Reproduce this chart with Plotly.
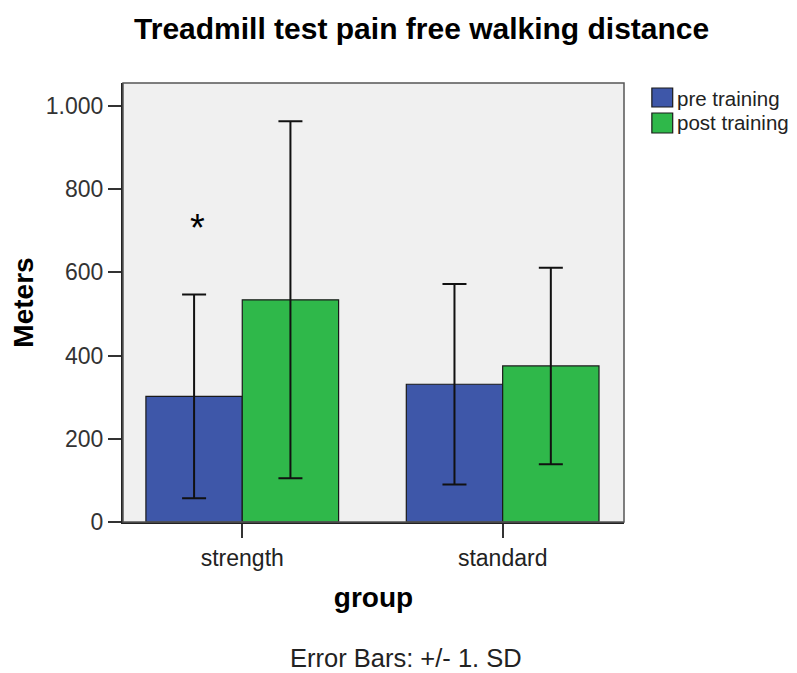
import plotly.graph_objects as go

categories = ["strength", "standard"]
pre_mean = [302, 331]
pre_sd = [245, 241]
post_mean = [534, 375]
post_sd = [429, 236]
series_names = ["pre training", "post training"]
colors = ["#3e57a9", "#2fb84a"]

FONT = "Liberation Sans, Arial, sans-serif"

fig = go.Figure()
fig.add_trace(go.Bar(
    x=[0, 1], y=pre_mean, name=series_names[0], showlegend=False,
    marker=dict(color=colors[0], line=dict(color="#1a1a1a", width=1.2)),
    error_y=dict(type="data", array=pre_sd, visible=True, color="#111111", thickness=2, width=12),
))
fig.add_trace(go.Bar(
    x=[0, 1], y=post_mean, name=series_names[1], showlegend=False,
    marker=dict(color=colors[1], line=dict(color="#1a1a1a", width=1.2)),
    error_y=dict(type="data", array=post_sd, visible=True, color="#111111", thickness=2, width=12),
))

# manual legend (squares + labels), placed outside the plot area
legend_boxes = [(0.9886, 0.9453, 0.9658), (0.9317, 0.8861, 0.9089)]
for (y1, y0, yc), nm, c in zip(legend_boxes, series_names, colors):
    fig.add_shape(type="rect", xref="paper", yref="paper", x0=1.0556, x1=1.0972, y0=y0, y1=y1,
                  fillcolor=c, line=dict(color="#1a1a1a", width=1.2))
    fig.add_annotation(x=1.101, y=yc, xref="paper", yref="paper", text=nm, showarrow=False,
                       xanchor="left", yanchor="middle",
                       font=dict(family=FONT, size=20.5, color="#222222"))

fig.add_annotation(x=-0.172, y=706, text="*", showarrow=False,
                   font=dict(family=FONT, size=38, color="#000000"), xref="x", yref="y")

fig.add_annotation(x=0.565, y=-0.3098, xref="paper", yref="paper", text="Error Bars: +/- 1. SD",
                   showarrow=False, yanchor="middle",
                   font=dict(family=FONT, size=25.5, color="#222222"))

fig.update_layout(
    width=797, height=673,
    margin=dict(l=111, r=181, t=75, b=159),
    paper_bgcolor="white", plot_bgcolor="#f0f0f0",
    barmode="group", bargap=0.26, bargroupgap=0,
    separators=",.",
    showlegend=False,
    title=dict(text="<b>Treadmill test pain free walking distance</b>", x=0.519, xanchor="center",
               xref="container", y=0.970, yanchor="middle",
               font=dict(family=FONT, size=30, color="#000000")),
    xaxis=dict(range=[-0.458, 1.466], tickvals=[0, 1], ticktext=categories,
               showgrid=False, zeroline=False, showline=True, linecolor="#222222", linewidth=2,
               ticks="outside", ticklen=14, tickwidth=2, tickcolor="#333333",
               tickfont=dict(family=FONT, size=23, color="#222222"),
               title=dict(text="<b>group</b>", font=dict(family=FONT, size=28, color="#000000"), standoff=18)),
    yaxis=dict(range=[0, 1055], tickvals=[0, 200, 400, 600, 800, 1000],
               tickformat=",d", showgrid=False, zeroline=False, showline=True, linecolor="#222222",
               linewidth=2, ticks="outside", ticklen=13, tickwidth=2, tickcolor="#333333",
               tickfont=dict(family=FONT, size=23, color="#333333"),
               title=dict(text="<b>Meters</b>", font=dict(family=FONT, size=28, color="#000000"), standoff=6)),
)

fig.add_shape(type="rect", xref="paper", yref="paper", x0=0, y0=0, x1=1, y1=1,
              line=dict(color="#555555", width=1.5), layer="above")

fig.write_html("out.html")
